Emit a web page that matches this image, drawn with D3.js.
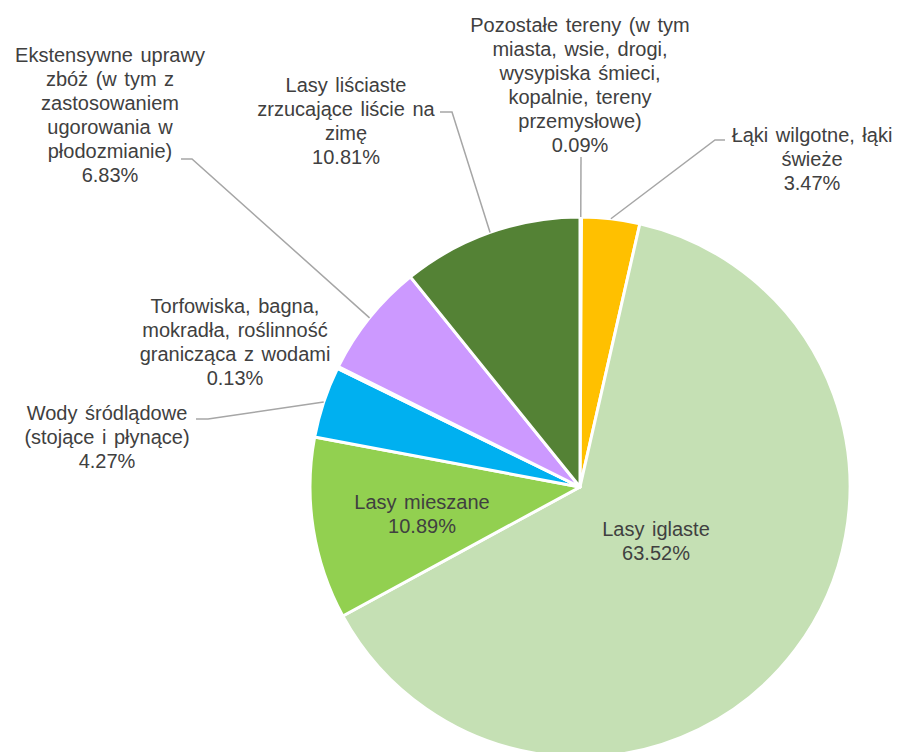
<!DOCTYPE html>
<html>
<head>
<meta charset="utf-8">
<script src="https://cdn.jsdelivr.net/npm/d3@7/dist/d3.min.js"></script>
<style>
  body { margin: 0; background: #fff; }
  svg { display: block; font-family: "Liberation Sans", Arial, sans-serif; }
</style>
</head>
<body>
<div id="chart"></div>
<script>
// data, clockwise from 12 o'clock
var categories = [
  "Pozostałe tereny (w tym\nmiasta, wsie, drogi,\nwysypiska śmieci,\nkopalnie, tereny\nprzemysłowe)",
  "Łąki wilgotne, łąki\nświeże",
  "Lasy iglaste",
  "Lasy mieszane",
  "Wody śródlądowe\n(stojące i płynące)",
  "Torfowiska, bagna,\nmokradła, roślinność\ngranicząca z wodami",
  "Ekstensywne uprawy\nzbóż (w tym z\nzastosowaniem\nugorowania w\npłodozmianie)",
  "Lasy liściaste\nzrzucające liście na\nzimę"
];
var shares = [0.09, 3.47, 63.52, 10.89, 4.27, 0.13, 6.83, 10.81];

var colors = ["#A5A5A5", "#FFC000", "#C5E0B4", "#92D050", "#00B0F0", "#4472C4", "#CC99FF", "#548235"];

// label placement (centre x, first baseline) and leader line bends
var labelLayout = [
  { x: 580, y: 32, leader: [[581, 157]] },
  { x: 812, y: 142, leader: [[715, 140], [725, 140]] },
  { x: 656, y: 536 },
  { x: 422, y: 509 },
  { x: 107, y: 420, leader: [[208, 419], [196, 419]] },
  { x: 235, y: 313 },
  { x: 110, y: 62, leader: [[192, 159], [181, 159]] },
  { x: 346, y: 92, leader: [[452, 112], [440, 112]] }
];

var width = 898, height = 752;
var cx = 580, cy = 487, radius = 270;
var lineH = 24;

var svg = d3.select('#chart').append('svg')
  .attr('width', width)
  .attr('height', height);

var g = svg.append('g').attr('transform', 'translate(' + cx + ',' + cy + ')');

var pie = d3.pie().value(function(d) { return d; }).sort(null);
var arc = d3.arc().innerRadius(0).outerRadius(radius);
var edgeArc = d3.arc().innerRadius(radius).outerRadius(radius);

var slices = pie(shares);

g.selectAll('path.slice')
  .data(slices)
  .enter().append('path')
  .attr('class', 'slice')
  .attr('d', arc)
  .attr('fill', function(d, i) { return colors[i]; })
  .attr('stroke', '#fff')
  .attr('stroke-width', 3)
  .attr('stroke-linejoin', 'round');

// leader lines
var line = d3.line();
slices.forEach(function(d, i) {
  var lay = labelLayout[i];
  if (!lay.leader) return;
  var c = edgeArc.centroid(d);
  var pts = [[cx + c[0], cy + c[1]]].concat(lay.leader);
  svg.append('path')
    .attr('d', line(pts))
    .attr('fill', 'none')
    .attr('stroke', '#A6A6A6')
    .attr('stroke-width', 1.5);
});

var fmt = d3.format('.2f');

// labels
slices.forEach(function(d, i) {
  var lay = labelLayout[i];
  var lines = categories[i].split('\n').concat([fmt(shares[i]) + '%']);
  var t = svg.append('text')
    .attr('text-anchor', 'middle')
    .attr('font-size', 20)
    .attr('word-spacing', 2)
    .attr('fill', '#404040');
  lines.forEach(function(s, k) {
    t.append('tspan')
      .attr('x', lay.x)
      .attr('y', lay.y + k * lineH)
      .text(s);
  });
});
</script>
</body>
</html>
